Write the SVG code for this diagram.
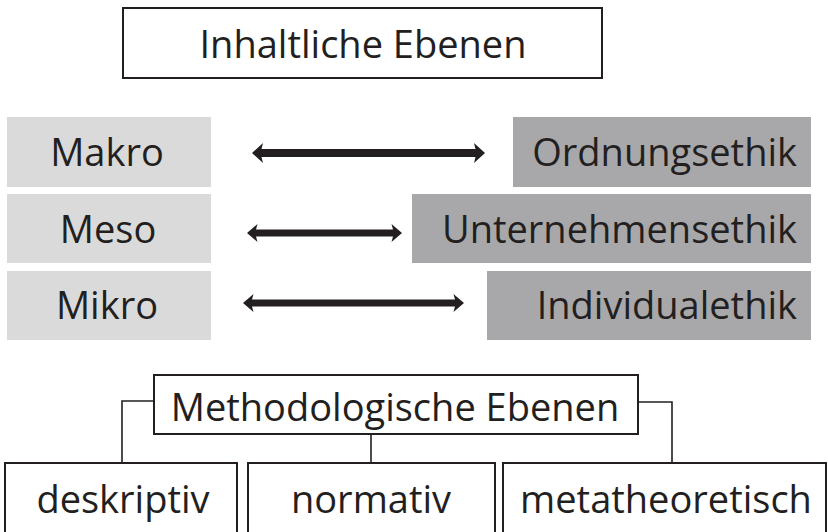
<svg xmlns="http://www.w3.org/2000/svg" width="828" height="532" viewBox="0 0 828 532">
<defs>
<style>
.t{font-family:"Open Sans","Noto Sans",sans-serif;font-size:38px;fill:#231f20}
.c{text-anchor:middle}
.e{text-anchor:end}
.box{fill:#fff;stroke:#231f20;stroke-width:2}
.lt{fill:#dadada}
.dk{fill:#a8a8ab}
.ln{fill:none;stroke:#231f20;stroke-width:1.6}
.ar{fill:#231f20}
</style>
</defs>
<rect width="828" height="532" fill="#fff"/>
<g id="inhaltliche">
<rect class="box" x="123" y="8" width="479" height="70"/>
<text class="t c" x="363" y="58">Inhaltliche Ebenen</text>
</g>
<g id="makro"><rect class="lt" x="7" y="117" width="204" height="70"/><text class="t c" x="107" y="166">Makro</text></g>
<g id="meso"><rect class="lt" x="7" y="194" width="204" height="69"/><text class="t c" x="108" y="243">Meso</text></g>
<g id="mikro"><rect class="lt" x="7" y="271" width="204" height="69"/><text class="t c" x="107" y="319">Mikro</text></g>
<g id="ordnungsethik"><rect class="dk" x="513" y="117" width="298" height="70"/><text class="t e" x="797" y="166">Ordnungsethik</text></g>
<g id="unternehmensethik"><rect class="dk" x="412" y="194" width="399" height="69"/><text class="t e" x="797" y="243">Unternehmensethik</text></g>
<g id="individualethik"><rect class="dk" x="487" y="271" width="324" height="69"/><text class="t e" x="797" y="319">Individualethik</text></g>
<g id="methodologische">
<rect class="box" x="154" y="375" width="484" height="59"/>
<text class="t c" x="395" y="421">Methodologische Ebenen</text>
</g>
<g id="deskriptiv"><rect class="box" x="5" y="463" width="232" height="80"/><text class="t c" x="123" y="513">deskriptiv</text></g>
<g id="normativ"><rect class="box" x="248" y="463" width="247" height="80"/><text class="t c" x="371" y="513">normativ</text></g>
<g id="metatheoretisch"><rect class="box" x="503" y="463" width="323" height="80"/><text class="t c" x="666" y="513">metatheoretisch</text></g>
<g id="connectors">
<path class="ar" d="M252 153 L263 143 L261.5 149 L475.5 149 L474 143 L485 153 L474 163 L475.5 157 L261.5 157 L263 163 Z"/>
<path class="ar" d="M247 233 L257.5 224 L256 229.5 L393 229.5 L391.5 224 L402 233 L391.5 242 L393 236.5 L256 236.5 L257.5 242 Z"/>
<path class="ar" d="M243 303 L253.5 294 L252 299.5 L455 299.5 L453.5 294 L464 303 L453.5 312 L455 306.5 L252 306.5 L253.5 312 Z"/>
<path class="ln" d="M154 401 H122 V463"/>
<path class="ln" d="M638 402 H672 V463"/>
<path class="ln" d="M371 434 V463"/>
</g>
</svg>
